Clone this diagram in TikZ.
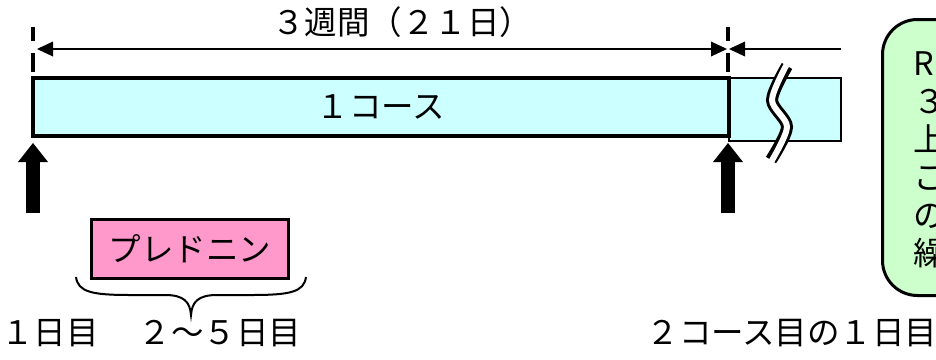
\documentclass[tikz,border=0pt]{standalone}
\usepackage{fontspec}
\setmainfont{Noto Sans CJK JP}
\usepackage{tikz}
\usetikzlibrary{calc,arrows.meta}
\definecolor{coursecyan}{HTML}{CCFFFF}
\definecolor{predpink}{HTML}{FF99CC}
\definecolor{notegreen}{HTML}{CCFFCC}
\tikzset{course bar/.style={draw=black, fill=coursecyan, inner sep=0pt, outer sep=0pt, anchor=north west}}
\tikzset{drug box/.style={draw=black, line width=3.5pt, fill=predpink, inner sep=0pt, outer sep=0pt}}
\tikzset{DayTip/.tip={Triangle[length=19pt,width=30pt,line width=0pt]}}
\tikzset{DimTip/.tip={Triangle[length=16pt,width=15pt,line width=0pt]}}
\tikzset{day mark/.style={line width=14pt, -DayTip}}
\tikzset{guide line/.style={line width=4pt, dash pattern=on 19pt off 12pt}}

\begin{document}
\begin{tikzpicture}[x=1pt,y=-1pt,font=\fontsize{32.5}{38}\selectfont]
\clip (0,0) rectangle (936,359);
% guide lines and span
\draw[guide line] (33,72) -- (33,27);
\draw[guide line] (728,72) -- (728,27);
\coordinate (spanL) at (37,49);
\coordinate (spanR) at (727,49);
\coordinate (nextL) at (729,49);
\coordinate (nextR) at (841,49);
\draw[line width=2pt, DimTip-DimTip] (spanL) -- (spanR);
\draw[line width=2pt, DimTip-] (nextL) -- (nextR);
\node (weeks) at (402,22) {３週間（２１日）};
% course bars
\node[course bar, line width=2.5pt, minimum width=112pt, minimum height=63pt] (course2) at (729,78) {};
\node[course bar, line width=3.5pt, minimum width=696pt, minimum height=58pt] (course1) at (33,78) {１コース};
% break mark
\draw[line width=12pt] plot[smooth] coordinates {(787,66) (772,100) (787,127) (771,160)};
\draw[white, line width=6pt] plot[smooth] coordinates {(787,64) (772,100) (787,127) (771,162)};
% day marks
\coordinate (day1 foot) at (33,213);
\coordinate (day1 tip) at (33,143);
\coordinate (day22 foot) at (728,213);
\coordinate (day22 tip) at (728,143);
\draw[day mark] (day1 foot) -- (day1 tip);
\draw[day mark] (day22 foot) -- (day22 tip);
% prednisolone
\node[drug box, minimum width=197pt, minimum height=59pt] (pred) at (190,249) {プレドニン};
\coordinate (brace l) at (76,277);
\coordinate (brace tip) at (191,315);
\coordinate (brace r) at (306,277);
\draw[line width=2pt] (brace l) .. controls (78,292) and (92,295) .. (130,295) -- (165,295)
  .. controls (184,295) and (190,302) .. (brace tip)
  .. controls (192,302) and (198,295) .. (217,295) -- (252,295)
  .. controls (290,295) and (304,292) .. (brace r);
\node (day1) at (50,333) {１日目};
\node (days25) at (220,333) {２～５日目};
\node (next1) at (792,333) {２コース目の１日目};
% note
\node[draw, line width=3pt, fill=notegreen, rounded corners=35pt, minimum width=200pt, minimum height=276pt, anchor=north west, inner sep=0pt] (note) at (881,18) {};
\foreach \ch [count=\i] in {R,３,上,こ,の,繰}
  \node[anchor=base west, inner sep=0pt] (note\i) at (913,37+38*\i) {\ch};
\end{tikzpicture}
\end{document}
